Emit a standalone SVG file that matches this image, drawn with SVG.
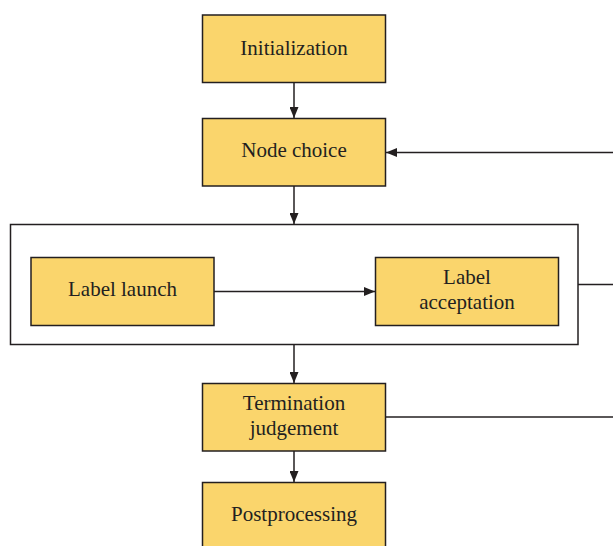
<svg xmlns="http://www.w3.org/2000/svg" width="613" height="546" viewBox="0 0 613 546">
<defs>
<marker id="ah" markerWidth="11" markerHeight="9" refX="11" refY="4.5" orient="auto" markerUnits="userSpaceOnUse">
<path d="M0,0 L11,4.5 L0,9 Z" fill="#231f20"/>
</marker>
<style>
.box{fill:#fad56c;stroke:#231f20;stroke-width:1.5}
.frame{fill:none;stroke:#231f20;stroke-width:1.5}
.t{font-family:"Liberation Serif",serif;font-size:21px;fill:#231f20;text-anchor:middle}
.c{fill:none;stroke:#231f20;stroke-width:1.5}
</style>
</defs>
<rect width="613" height="546" fill="#fff"/>
<g id="container"><rect class="frame" x="10.5" y="224.5" width="567.5" height="120"/></g>
<g id="init"><rect class="box" x="202.5" y="15" width="183" height="67.5"/><text class="t" x="294" y="54.5">Initialization</text></g>
<g id="nodechoice"><rect class="box" x="202.5" y="118.5" width="183" height="67.5"/><text class="t" x="294" y="157">Node choice</text></g>
<g id="launch"><rect class="box" x="31" y="257.5" width="183" height="68"/><text class="t" x="122.5" y="296">Label launch</text></g>
<g id="accept"><rect class="box" x="375.5" y="257.5" width="183" height="68"/><text class="t" x="467" y="284">Label</text><text class="t" x="467" y="309">acceptation</text></g>
<g id="term"><rect class="box" x="202.5" y="383.5" width="183" height="67.5"/><text class="t" x="294" y="410">Termination</text><text class="t" x="294" y="434.5">judgement</text></g>
<g id="post"><rect class="box" x="202.5" y="482.5" width="183" height="80"/><text class="t" x="294" y="521">Postprocessing</text></g>
<g id="connectors">
<line class="c" x1="294" y1="82.5" x2="294" y2="118" marker-end="url(#ah)"/>
<line class="c" x1="294" y1="186" x2="294" y2="224" marker-end="url(#ah)"/>
<line class="c" x1="214" y1="291.5" x2="375" y2="291.5" marker-end="url(#ah)"/>
<line class="c" x1="294" y1="345" x2="294" y2="383" marker-end="url(#ah)"/>
<line class="c" x1="294" y1="451" x2="294" y2="482" marker-end="url(#ah)"/>
<line class="c" x1="613" y1="152.5" x2="386" y2="152.5" marker-end="url(#ah)"/>
<line class="c" x1="578" y1="284.5" x2="613" y2="284.5"/>
<line class="c" x1="385.5" y1="417" x2="613" y2="417"/>
</g>
</svg>
